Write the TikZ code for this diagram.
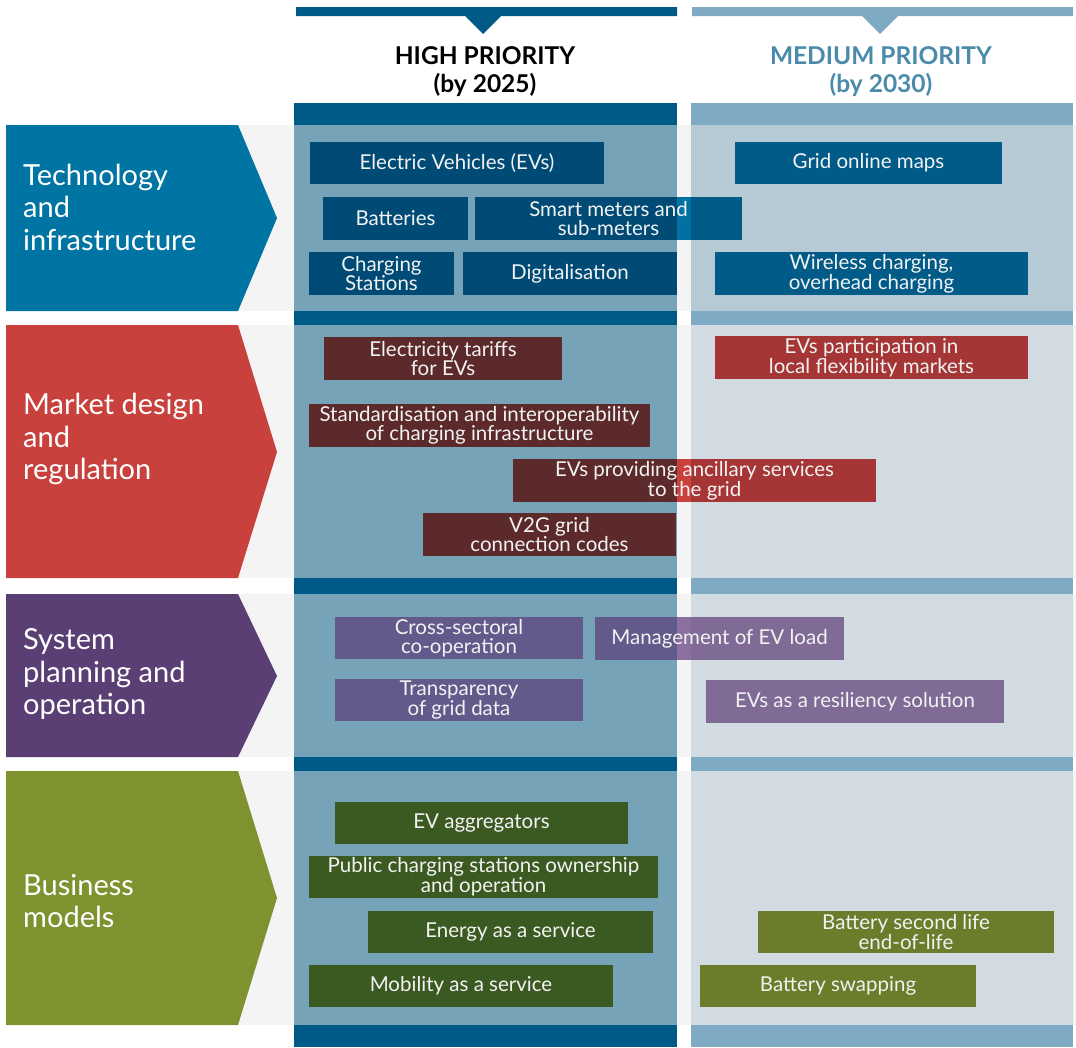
\documentclass[tikz,border=0pt]{standalone}
\usepackage{fontspec}
\setmainfont{Lato}
\definecolor{band}{HTML}{F4F4F4}
\definecolor{hcol}{HTML}{76A3B8}
\definecolor{hbar}{HTML}{005A87}
\definecolor{mcolT}{HTML}{B6CAD6}
\definecolor{mcol}{HTML}{D3DBE2}
\definecolor{mbar}{HTML}{7EAAC3}
\definecolor{mtext}{HTML}{4A8AAA}
\definecolor{chT}{HTML}{0074A3}
\definecolor{chM}{HTML}{C8413C}
\definecolor{chS}{HTML}{5A3F75}
\definecolor{chB}{HTML}{7F9230}
\definecolor{tH}{HTML}{004B76}
\definecolor{tG}{HTML}{0071A0}
\definecolor{tM}{HTML}{005B88}
\definecolor{rH}{HTML}{5C2A2B}
\definecolor{rG}{HTML}{C9403C}
\definecolor{rM}{HTML}{A63636}
\definecolor{sH}{HTML}{615A8B}
\definecolor{sG}{HTML}{8C70A0}
\definecolor{sM}{HTML}{7F6B96}
\definecolor{bH}{HTML}{3B5A22}
\definecolor{bM}{HTML}{6B7D2B}
\definecolor{btext}{HTML}{F2F2F2}
\tikzset{
  bxs/.style={text=btext, align=center, inner sep=0pt, font=\fontsize{20.5}{18.5}\selectfont},
  cat/.style={text=white, align=left, anchor=west, inner sep=0pt, font=\fontsize{29}{32.5}\selectfont},
  hdr/.style={align=center, inner sep=0pt, font=\bfseries\fontsize{24.5}{28}\selectfont}
}
\newcommand\bx[7]{\node[bxs, fill=#6, minimum width={(#4-#2)*1pt}, minimum height={(#5-#3)*1pt}] (#1) at ({(#2+#4)/2},{(#3+#5)/2}) {#7};}
\newcommand\bxx[9]{%
  \fill[#6] (#2,#3) rectangle (677,#5);
  \fill[#7] (677,#3) rectangle (691,#5);
  \fill[#8] (691,#3) rectangle (#4,#5);
  \node[bxs, minimum width={(#4-#2)*1pt}, minimum height={(#5-#3)*1pt}] (#1) at ({(#2+#4)/2},{(#3+#5)/2}) {#9};}
\begin{document}
\begin{tikzpicture}[x=1pt,y=-1pt]
\useasboundingbox (0,0) rectangle (1076,1047);
\fill[white] (0,0) rectangle (1076,1047);
% row bands and chevrons
\fill[band] (6,125) rectangle (1076,311);
\fill[chT] (6,125) -- (238,125) -- (277,218) -- (238,311) -- (6,311) -- cycle;
\fill[band] (6,325) rectangle (1076,578);
\fill[chM] (6,325) -- (238,325) -- (277,452) -- (238,578) -- (6,578) -- cycle;
\fill[band] (6,594) rectangle (1076,757);
\fill[chS] (6,594) -- (238,594) -- (277,676) -- (238,757) -- (6,757) -- cycle;
\fill[band] (6,771) rectangle (1076,1025);
\fill[chB] (6,771) -- (238,771) -- (277,898) -- (238,1025) -- (6,1025) -- cycle;
% columns
\fill[hcol] (294,103) rectangle (677,1047);
\fill[mcol] (691,103) rectangle (1073,1047);
\fill[mcolT] (691,125) rectangle (1073,311);
\foreach \a/\b in {103/125,311/325,578/594,757/771,1025/1047}{
  \fill[hbar] (294,\a) rectangle (677,\b);
  \fill[mbar] (691,\a) rectangle (1073,\b);
}
% headers
\fill[hbar] (296,7) -- (677,7) -- (677,16) -- (501,16) -- (483,34) -- (465,16) -- (296,16) -- cycle;
\fill[mbar] (692,7) -- (1073,7) -- (1073,16) -- (898,16) -- (880,34) -- (862,16) -- (692,16) -- cycle;
\node[hdr, text=black] (hh) at (485,72) {HIGH PRIORITY\\(by 2025)};
\node[hdr, text=mtext] (mh) at (881,72) {MEDIUM PRIORITY\\(by 2030)};
% category labels
\node[cat] (ct) at (23,207) {Technology\\and\\infrastructure};
\node[cat] (cm) at (23,439) {Market design\\and\\regulation};
\node[cat] (cs) at (23,674) {System\\planning and\\operation};
\node[cat] (cb) at (23,901) {Business\\models};
% technology
\bx{t1}{310}{142}{604}{184}{tH}{Electric Vehicles (EVs)}
\bx{t2}{323}{197}{468}{240}{tH}{Batteries}
\bxx{t3}{475}{197}{742}{240}{tH}{tG}{tM}{Smart meters and\\sub-meters}
\bx{t4}{309}{252}{454}{295}{tH}{Charging\\Stations}
\bx{t5}{463}{252}{677}{295}{tH}{Digitalisation}
\bx{t6}{735}{142}{1002}{184}{tM}{Grid online maps}
\bx{t7}{715}{252}{1028}{295}{tM}{Wireless charging,\\overhead charging}
% market
\bx{m1}{324}{337}{562}{380}{rH}{Electricity tariffs\\for EVs}
\bx{m2}{309}{404}{650}{447}{rH}{Standardisation and interoperability\\of charging infrastructure}
\bx{m3}{715}{336}{1028}{379}{rM}{EVs participation in\\local flexibility markets}
\bxx{m4}{513}{459}{876}{502}{rH}{rG}{rM}{EVs providing ancillary services\\to the grid}
\bx{m5}{423}{513}{676}{556}{rH}{V2G grid\\connection codes}
% system
\bx{s1}{335}{617}{583}{659}{sH}{Cross-sectoral\\co-operation}
\bxx{s2}{595}{617}{844}{660}{sH}{sG}{sM}{Management of EV load}
\bx{s3}{335}{679}{583}{721}{sH}{Transparency\\of grid data}
\bx{s4}{706}{680}{1004}{723}{sM}{EVs as a resiliency solution}
% business
\bx{b1}{335}{802}{628}{844}{bH}{EV aggregators}
\bx{b2}{309}{856}{658}{898}{bH}{Public charging stations ownership\\and operation}
\bx{b3}{368}{911}{653}{953}{bH}{Energy as a service}
\bx{b4}{309}{965}{613}{1007}{bH}{Mobility as a service}
\bx{b5}{758}{911}{1054}{953}{bM}{Battery second life\\end-of-life}
\bx{b6}{700}{965}{976}{1007}{bM}{Battery swapping}
\end{tikzpicture}
\end{document}
